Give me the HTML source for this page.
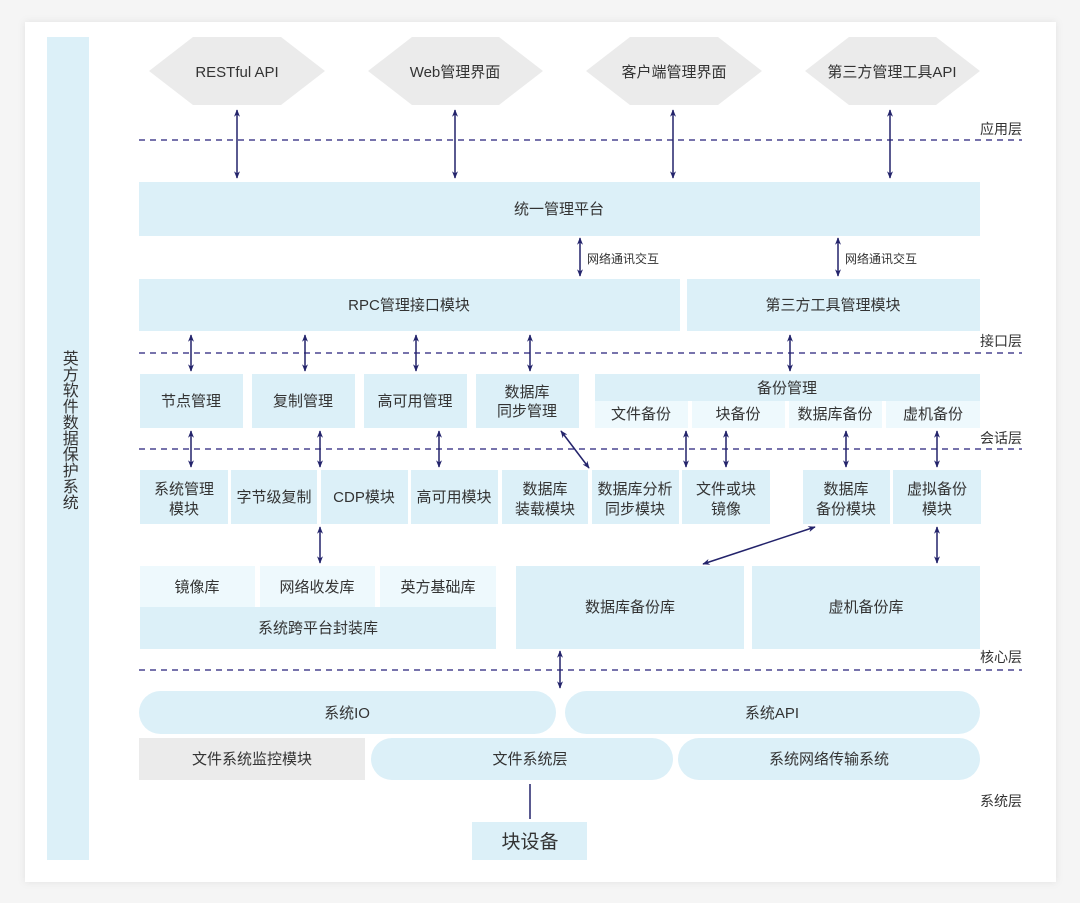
<!DOCTYPE html>
<html><head><meta charset="utf-8"><style>
html,body{margin:0;padding:0;background:#f4f4f4;}
svg{display:block;}
text{font-family:"Liberation Sans","Noto Sans CJK SC",sans-serif;fill:#333;}
</style></head><body>
<svg width="1080" height="903" viewBox="0 0 1080 903" xmlns="http://www.w3.org/2000/svg">
<defs>
<marker id="a" viewBox="0 0 10 10" refX="9" refY="5" markerWidth="5" markerHeight="5" orient="auto-start-reverse"><path d="M0,1 L10,5 L0,9 L3,5 z" fill="#23236b"/></marker>
<filter id="sh" x="-5%" y="-5%" width="110%" height="110%"><feDropShadow dx="0" dy="0" stdDeviation="4" flood-color="#000" flood-opacity="0.08"/></filter>
</defs>
<rect x="0" y="0" width="1080" height="903" fill="#f5f5f5"/>
<rect x="25" y="22" width="1031" height="860" fill="#fff" filter="url(#sh)"/>
<rect x="47" y="37" width="42" height="823" fill="#dcf0f8"/>
<text x="68" y="430" font-size="16" text-anchor="middle" writing-mode="tb" style="writing-mode:vertical-rl" dominant-baseline="middle">英方软件数据保护系统</text>

<g fill="#ebebeb">
<polygon points="149,71 193,37 281,37 325,71 281,105 193,105"/>
<polygon points="368,71 412,37 499,37 543,71 499,105 412,105"/>
<polygon points="586,71 630,37 718,37 762,71 718,105 630,105"/>
<polygon points="805,71 849,37 936,37 980,71 936,105 849,105"/>
</g>
<g font-size="15" text-anchor="middle">
<text x="237" y="77">RESTful API</text>
<text x="455" y="77">Web管理界面</text>
<text x="674" y="77">客户端管理界面</text>
<text x="892" y="77">第三方管理工具API</text>
</g>

<g stroke="#4a4590" stroke-width="1.5" stroke-dasharray="6,5">
<line x1="139" y1="140" x2="1022" y2="140"/>
<line x1="139" y1="353" x2="1022" y2="353"/>
<line x1="139" y1="449" x2="1022" y2="449"/>
<line x1="139" y1="670" x2="1022" y2="670"/>
</g>
<g font-size="14" text-anchor="end">
<text x="1022" y="134">应用层</text>
<text x="1022" y="346">接口层</text>
<text x="1022" y="443">会话层</text>
<text x="1022" y="662">核心层</text>
<text x="1022" y="806">系统层</text>
</g>

<g fill="#dcf0f8">
<rect x="139" y="182" width="841" height="54"/>
<rect x="139" y="279" width="541" height="52"/>
<rect x="687" y="279" width="293" height="52"/>
<rect x="140" y="374" width="103" height="54"/>
<rect x="252" y="374" width="103" height="54"/>
<rect x="364" y="374" width="103" height="54"/>
<rect x="476" y="374" width="103" height="54"/>
<rect x="595" y="374" width="385" height="27"/>
<rect x="140" y="470" width="88" height="54"/>
<rect x="231" y="470" width="86" height="54"/>
<rect x="321" y="470" width="87" height="54"/>
<rect x="411" y="470" width="87" height="54"/>
<rect x="502" y="470" width="86" height="54"/>
<rect x="592" y="470" width="87" height="54"/>
<rect x="682" y="470" width="88" height="54"/>
<rect x="803" y="470" width="87" height="54"/>
<rect x="893" y="470" width="88" height="54"/>
<rect x="140" y="607" width="356" height="42"/>
<rect x="516" y="566" width="228" height="83"/>
<rect x="752" y="566" width="228" height="83"/>
<rect x="139" y="691" width="417" height="43" rx="21.5"/>
<rect x="565" y="691" width="415" height="43" rx="21.5"/>
<rect x="371" y="738" width="302" height="42" rx="21"/>
<rect x="678" y="738" width="302" height="42" rx="21"/>
<rect x="472" y="822" width="115" height="38"/>
</g>
<g fill="#eef9fd">
<rect x="595" y="401" width="93" height="27"/>
<rect x="692" y="401" width="93" height="27"/>
<rect x="789" y="401" width="93" height="27"/>
<rect x="886" y="401" width="94" height="27"/>
<rect x="140" y="566" width="115" height="41"/>
<rect x="260" y="566" width="115" height="41"/>
<rect x="380" y="566" width="116" height="41"/>
</g>
<rect x="139" y="738" width="226" height="42" fill="#ebebeb"/>

<g font-size="15" text-anchor="middle">
<text x="559" y="214">统一管理平台</text>
<text x="409" y="310">RPC管理接口模块</text>
<text x="833" y="310">第三方工具管理模块</text>
<text x="191" y="406">节点管理</text>
<text x="303" y="406">复制管理</text>
<text x="415" y="406">高可用管理</text>
<text x="527" y="397">数据库</text>
<text x="527" y="416">同步管理</text>
<text x="787" y="393">备份管理</text>
<text x="641" y="419">文件备份</text>
<text x="738" y="419">块备份</text>
<text x="835" y="419">数据库备份</text>
<text x="933" y="419">虚机备份</text>
<text x="184" y="494">系统管理</text>
<text x="184" y="514">模块</text>
<text x="274" y="502">字节级复制</text>
<text x="364" y="502">CDP模块</text>
<text x="454" y="502">高可用模块</text>
<text x="545" y="494">数据库</text>
<text x="545" y="514">装载模块</text>
<text x="635" y="494">数据库分析</text>
<text x="635" y="514">同步模块</text>
<text x="726" y="494">文件或块</text>
<text x="726" y="514">镜像</text>
<text x="846" y="494">数据库</text>
<text x="846" y="514">备份模块</text>
<text x="937" y="494">虚拟备份</text>
<text x="937" y="514">模块</text>
<text x="197" y="592">镜像库</text>
<text x="317" y="592">网络收发库</text>
<text x="438" y="592">英方基础库</text>
<text x="318" y="633">系统跨平台封装库</text>
<text x="630" y="612">数据库备份库</text>
<text x="866" y="612">虚机备份库</text>
<text x="347" y="718">系统IO</text>
<text x="772" y="718">系统API</text>
<text x="252" y="764">文件系统监控模块</text>
<text x="530" y="764">文件系统层</text>
<text x="829" y="764">系统网络传输系统</text>
<text x="530" y="848" font-size="19">块设备</text>
</g>
<g font-size="12">
<text x="587" y="263">网络通讯交互</text>
<text x="845" y="263">网络通讯交互</text>
</g>

<g stroke="#23236b" stroke-width="1.5" marker-start="url(#a)" marker-end="url(#a)">
<line x1="237" y1="110" x2="237" y2="178"/>
<line x1="455" y1="110" x2="455" y2="178"/>
<line x1="673" y1="110" x2="673" y2="178"/>
<line x1="890" y1="110" x2="890" y2="178"/>
<line x1="580" y1="238" x2="580" y2="276"/>
<line x1="838" y1="238" x2="838" y2="276"/>
<line x1="191" y1="335" x2="191" y2="371"/>
<line x1="305" y1="335" x2="305" y2="371"/>
<line x1="416" y1="335" x2="416" y2="371"/>
<line x1="530" y1="335" x2="530" y2="371"/>
<line x1="790" y1="335" x2="790" y2="371"/>
<line x1="191" y1="431" x2="191" y2="467"/>
<line x1="320" y1="431" x2="320" y2="467"/>
<line x1="439" y1="431" x2="439" y2="467"/>
<line x1="686" y1="431" x2="686" y2="467"/>
<line x1="726" y1="431" x2="726" y2="467"/>
<line x1="846" y1="431" x2="846" y2="467"/>
<line x1="937" y1="431" x2="937" y2="467"/>
<line x1="561" y1="431" x2="589" y2="468"/>
<line x1="320" y1="527" x2="320" y2="563"/>
<line x1="815" y1="527" x2="703" y2="564"/>
<line x1="937" y1="527" x2="937" y2="563"/>
<line x1="560" y1="651" x2="560" y2="688"/>
</g>
<line x1="530" y1="784" x2="530" y2="819" stroke="#23236b" stroke-width="1.5"/>
</svg>
</body></html>
